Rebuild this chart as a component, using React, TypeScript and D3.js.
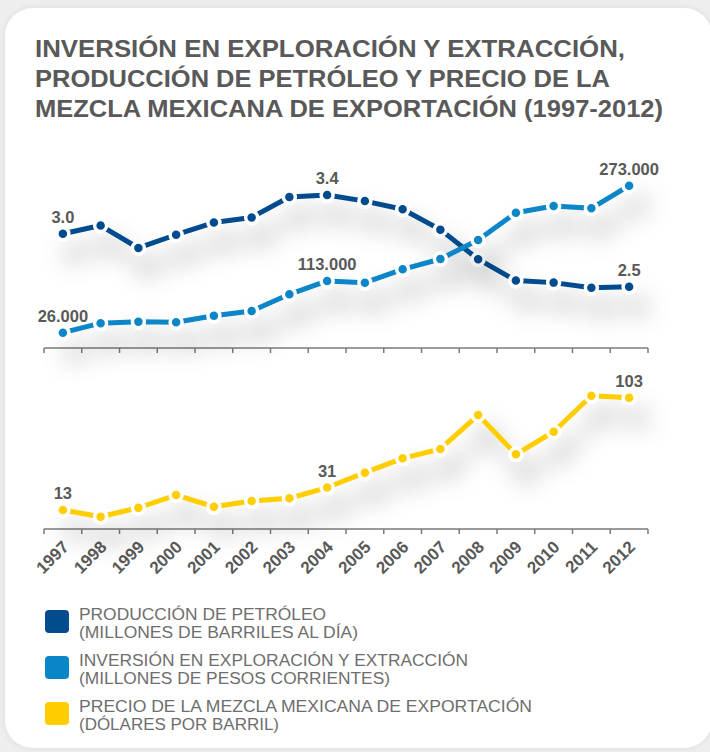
import React from "react";
import * as d3 from "d3";

const years = ["1997","1998","1999","2000","2001","2002","2003","2004","2005","2006","2007","2008","2009","2010","2011","2012"];
const production = [3.02, 3.10, 2.88, 3.01, 3.13, 3.18, 3.38, 3.40, 3.34, 3.26, 3.06, 2.77, 2.56, 2.54, 2.49, 2.50];
const investment = [26, 42, 44.5, 43.5, 54.6, 62.5, 90.5, 113, 110, 132.5, 149.8, 181.7, 227.6, 238.9, 235, 273];
const price = [13, 7.6, 14.8, 25, 15.6, 20.2, 22.4, 31, 42.9, 54.4, 61.9, 89.1, 57.6, 75.7, 104.6, 103];
const labelIdx = [0, 7, 15];

const titleLines = [
  "INVERSIÓN EN EXPLORACIÓN Y EXTRACCIÓN,",
  "PRODUCCIÓN DE PETRÓLEO Y PRECIO DE LA",
  "MEZCLA MEXICANA DE EXPORTACIÓN (1997-2012)",
];
const legendNames = [
  "PRODUCCIÓN DE PETRÓLEO",
  "INVERSIÓN EN EXPLORACIÓN Y EXTRACCIÓN",
  "PRECIO DE LA MEZCLA MEXICANA DE EXPORTACIÓN",
];
const legendUnits = [
  "(MILLONES DE BARRILES AL DÍA)",
  "(MILLONES DE PESOS CORRIENTES)",
  "(DÓLARES POR BARRIL)",
];

const C_DARK = "#024b8e";
const C_LIGHT = "#0886c8";
const C_YELLOW = "#ffcd00";
const TEXT = "#595959";

const esLocale = d3.formatLocale({ decimal: ",", thousands: ".", grouping: [3], currency: ["", ""] });
const fmtThousands = esLocale.format(",");

export default function App() {
  const W = 710, H = 752;
  const x = d3.scaleBand<string>().domain(years).range([44, 648]);
  const cx = (i: number) => (x(years[i]) as number) + x.bandwidth() / 2;
  const topAxisY = 348;
  const botAxisY = 529;

  const prodY = d3.scaleLinear().domain([2.5, 3.4]).range([286.7, 195]);
  const invY = d3.scaleLinear().domain([26, 273]).range([332.7, 185.7]);
  const priceY = d3.scaleLinear().domain([13, 103]).range([510, 397.7]);

  const series = [
    { data: production, y: prodY, color: C_DARK, fmt: (v: number) => d3.format(".1f")(v) },
    { data: investment, y: invY, color: C_LIGHT, fmt: (v: number) => fmtThousands(Math.round(v * 1000)) },
    { data: price, y: priceY, color: C_YELLOW, fmt: (v: number) => d3.format(".0f")(v) },
  ];

  const ticks = years.map((yr) => x(yr) as number).concat([x.range()[1]]);

  const titleWidths = [590, 575, 628];
  const legendNameW = [247, 389, 453];
  const legendUnitW = [279, 311, 200];
  const legendColors = [C_DARK, C_LIGHT, C_YELLOW];

  return (
    <svg width={W} height={H} style={{ position: "absolute", left: 0, top: 0 }} fontFamily="'Liberation Sans', Arial, sans-serif">
      <defs>
        <filter id="lineShadow" x="-20%" y="-60%" width="150%" height="240%">
          <feGaussianBlur in="SourceAlpha" stdDeviation="12" result="b" />
          <feOffset in="b" dx="10" dy="20" result="o" />
          <feFlood floodColor="#000" floodOpacity="0.3" />
          <feComposite in2="o" operator="in" result="s" />
          <feMerge>
            <feMergeNode in="s" />
            <feMergeNode in="SourceGraphic" />
          </feMerge>
        </filter>
        <filter id="cardShadow" x="-5%" y="-5%" width="110%" height="110%">
          <feGaussianBlur in="SourceAlpha" stdDeviation="3" result="b" />
          <feFlood floodColor="#000" floodOpacity="0.08" />
          <feComposite in2="b" operator="in" result="s" />
          <feMerge>
            <feMergeNode in="s" />
            <feMergeNode in="SourceGraphic" />
          </feMerge>
        </filter>
      </defs>
      <rect x={0} y={0} width={W} height={H} fill="#eeeeee" />
      <rect x={5} y={8} width={707} height={740} rx={28} fill="#ffffff" filter="url(#cardShadow)" />

      {titleLines.map((t, i) => (
        <text key={t} x={35} y={57 + i * 30} fontSize={23} fontWeight="bold" fill={TEXT}
          textLength={titleWidths[i]} lengthAdjust="spacingAndGlyphs">{t}</text>
      ))}

      {[topAxisY, botAxisY].map((ay) => (
        <g key={ay} stroke="#7a7a7a" strokeWidth={1.5}>
          <line x1={x.range()[0]} x2={x.range()[1]} y1={ay} y2={ay} />
          {ticks.map((tx, j) => (
            <line key={j} x1={tx} x2={tx} y1={ay} y2={ay + 5} />
          ))}
        </g>
      ))}
      {years.map((yr, i) => (
        <text key={yr} transform={`translate(${cx(i) + 7},${botAxisY + 19}) rotate(-45)`} textAnchor="end"
          fontSize={17} fontWeight="bold" fill={TEXT}>{yr}</text>
      ))}

      {series.map((s, si) => {
        const line = d3.line<number>().x((_, i) => cx(i)).y((v) => s.y(v));
        return (
          <g key={si} filter="url(#lineShadow)">
            <path d={line(s.data) || ""} fill="none" stroke={s.color} strokeWidth={5} strokeLinejoin="round" />
            {s.data.map((v, i) => (
              <circle key={i} cx={cx(i)} cy={s.y(v)} r={6} fill={s.color} stroke="#fff" strokeWidth={3.5} />
            ))}
          </g>
        );
      })}
      {series.map((s, si) =>
        labelIdx.map((i) => (
          <text key={`${si}-${i}`} x={cx(i)} y={s.y(s.data[i]) - 11} textAnchor="middle" fontSize={16.5}
            fontWeight="bold" fill={TEXT}>{s.fmt(s.data[i])}</text>
        ))
      )}

      {legendNames.map((n, i) => {
        const by = 620 + i * 46;
        return (
          <g key={n}>
            <rect x={45} y={by - 10} width={24} height={23} rx={4} fill={legendColors[i]} />
            <text x={79} y={by} fontSize={16} fill="#6e6e6e" textLength={legendNameW[i]} lengthAdjust="spacingAndGlyphs">{n}</text>
            <text x={79} y={by + 17.5} fontSize={16} fill="#6e6e6e" textLength={legendUnitW[i]} lengthAdjust="spacingAndGlyphs">{legendUnits[i]}</text>
          </g>
        );
      })}
    </svg>
  );
}
